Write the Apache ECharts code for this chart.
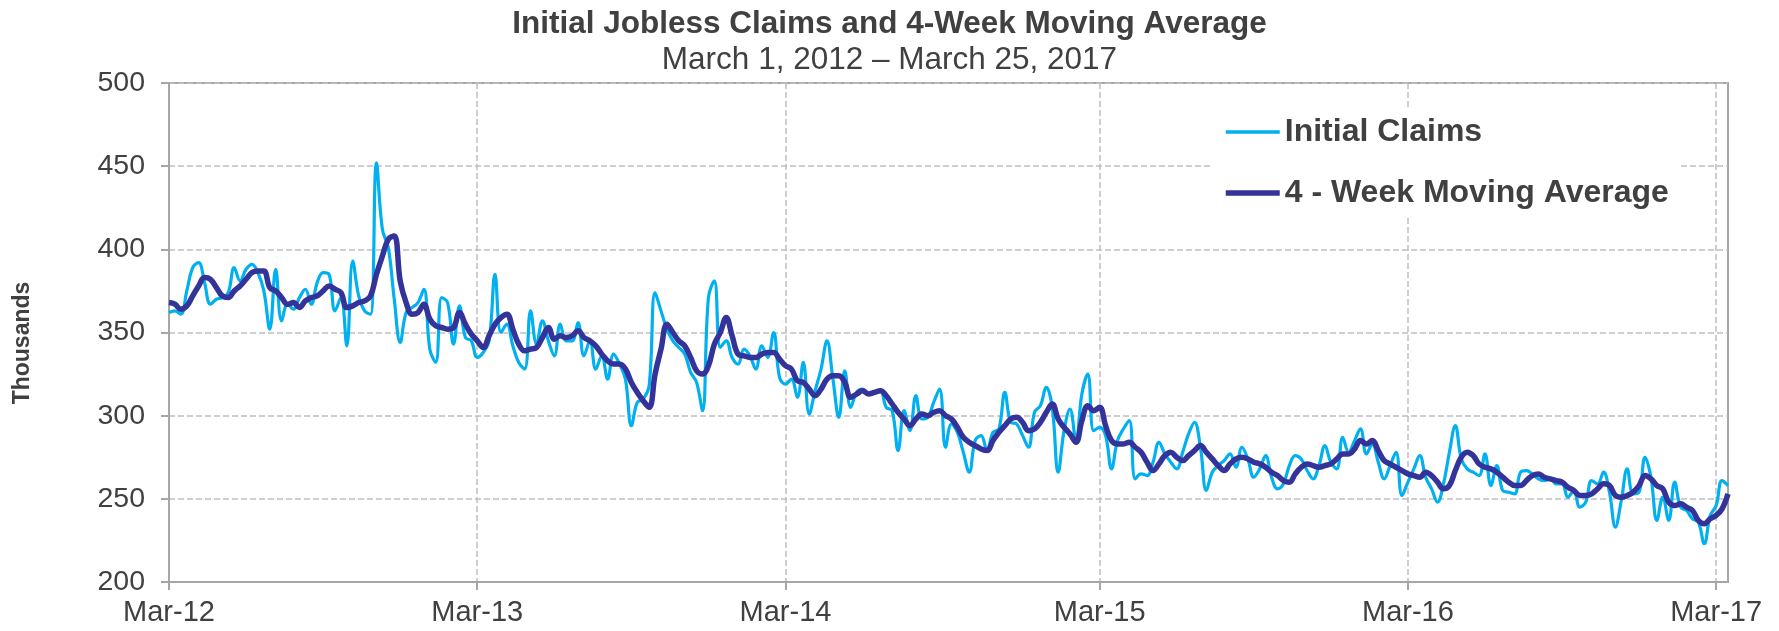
<!DOCTYPE html>
<html>
<head>
<meta charset="utf-8">
<title>Initial Jobless Claims</title>
<script src="https://cdn.jsdelivr.net/npm/echarts@6/dist/echarts.min.js"></script>
<style>
	html,body{margin:0;padding:0;background:#fff;}
	#chart{width:1779px;height:631px;}
</style>
</head>
<body>
<div id="chart"></div>
<script>
// weekly values, thousands, week ending Mar 3 2012 -> Mar 17 2017
var firstWeek = '2012-03-03';
var weekCount = 264;
var initialClaims = [
	362,363,361,375,389,392,380,367,370,371,
	374,389,381,388,391,386,375,352,388,357,
	367,364,371,376,367,380,386,385,363,371,
	342,393,372,363,361,452,412,401,370,344,
	362,365,368,376,340,332,371,368,343,366,
	347,345,335,338,345,385,350,355,342,332,
	328,363,343,357,345,336,355,345,345,356,
	336,345,328,336,322,337,331,322,294,308,
	310,318,374,363,352,345,341,337,326,320,
	303,371,381,341,345,335,331,340,336,328,
	342,335,350,323,319,322,311,332,301,315,
	328,345,322,299,327,305,314,316,313,314,
	315,305,303,279,303,291,312,298,299,308,
	316,281,295,290,278,266,285,288,279,290,
	292,314,296,295,288,281,302,306,317,305,
	266,291,304,285,313,325,291,293,288,268,
	285,292,297,262,265,264,272,284,277,272,
	268,278,289,296,281,255,266,270,273,277,
	269,281,274,263,268,276,263,256,259,270,
	276,274,267,262,270,282,272,268,287,278,
	285,292,277,283,272,262,270,278,252,260,
	268,276,263,256,248,259,278,294,274,268,
	266,264,277,258,270,255,254,253,266,267,
	265,262,261,262,259,259,251,255,245,248,
	261,259,266,254,233,249,268,253,254,275,
	263,237,251,237,260,245,243,238,236,223,
	240,246,261,258
];
var movingAvg = [
	368,367,364,366,372,378,383,382,377,372,
	371,375,378,382,386,387,387,377,375,371,
	367,368,365,369,371,372,375,378,376,374,
	365,366,368,369,372,385,396,406,408,381,
	368,361,362,367,358,354,353,352,353,362,
	355,349,345,341,348,355,359,361,352,343,
	339,340,341,347,353,346,348,347,348,351,
	347,345,342,337,333,331,331,328,320,314,
	309,305,325,340,355,350,345,342,335,327,
	325,330,343,350,359,348,337,336,335,335,
	337,338,338,334,330,328,321,320,316,312,
	316,322,324,324,320,311,313,315,313,314,
	315,312,307,302,298,294,298,301,300,302,
	303,300,298,293,287,284,282,280,279,285,
	290,294,298,299,296,291,292,296,302,307,
	298,293,289,284,297,306,303,305,294,285,
	283,283,284,281,278,272,267,271,276,278,
	275,273,276,279,282,278,274,270,267,271,
	274,275,274,272,271,269,266,264,261,260,
	265,269,271,270,269,270,271,274,277,277,
	280,285,283,285,279,273,271,269,267,265,
	264,263,266,264,260,256,258,267,275,278,
	276,271,269,268,266,263,260,258,258,261,
	264,265,263,262,261,260,257,255,252,252,
	253,256,259,258,252,251,252,254,258,264,
	262,258,256,248,246,247,245,243,237,235,
	238,240,244,253
];
var yTicks = [200,250,300,350,400,450,500];

var textColor = '#404040';
var fontName = 'Liberation Sans, Arial, sans-serif';

//week dates for the category axis
function getWeeks(){
	var list = [];
	var p = firstWeek.split('-');
	var t0 = Date.UTC(+p[0], +p[1]-1, +p[2]);
	for(var i = 0; i < weekCount; i++){
		var d = new Date(t0 + i*7*86400000);
		var m = d.getUTCMonth()+1, dd = d.getUTCDate();
		list.push(d.getUTCFullYear()+'-'+(m<10?'0'+m:m)+'-'+(dd<10?'0'+dd:dd));
	}
	return list;
}
//first week of march gets tick, label and grid line
function isMarch(index, value){
	return value.substr(5,2) == '03' && Number(value.substr(8,2)) <= 7;
}

var weeks = getWeeks();
var myChart = echarts.init(document.getElementById('chart'));
var option = {
	animation: false,
	backgroundColor: '#fff',
	textStyle: { fontFamily: fontName },
	title: [{
		text: 'Initial Jobless Claims and 4-Week Moving Average',
		left: 'center',
		top: 3,
		textStyle: { fontSize: 31.5, fontWeight: 'bold', color: textColor, fontFamily: fontName }
	}, {
		text: 'March 1, 2012 \u2013 March 25, 2017',
		left: 'center',
		top: 39,
		textStyle: { fontSize: 31.5, fontWeight: 'normal', color: textColor, fontFamily: fontName }
	}],
	graphic: [{
		type: 'text',
		x: 23,
		y: 343,
		rotation: Math.PI/2,
		style: {
			text: 'Thousands',
			fill: textColor,
			font: 'bold 23px ' + fontName,
			align: 'center',
			verticalAlign: 'middle'
		}
	}],
	legend: {
		orient: 'vertical',
		left: 1213,
		top: 107,
		padding: [8, 10, 8, 10],
		backgroundColor: '#fff',
		itemWidth: 54,
		itemHeight: 14,
		itemGap: 27,
		textStyle: { fontSize: 32, fontWeight: 'bold', color: textColor, lineHeight: 34, fontFamily: fontName },
		data: [
			{ name: 'Initial Claims', itemStyle: { opacity: 0 }, lineStyle: { width: 3.5 } },
			{ name: '4 - Week Moving Average', itemStyle: { opacity: 0 }, lineStyle: { width: 5.5 } }
		]
	},
	grid: {
		left: 169,
		right: 51,
		top: 83,
		bottom: 49,
		show: true,
		borderColor: '#a6a6a6',
		borderWidth: 2
	},
	xAxis: {
		type: 'category',
		boundaryGap: false,
		data: weeks,
		axisLine: { lineStyle: { color: '#a6a6a6', width: 2 } },
		axisTick: { show: true, interval: isMarch, length: 8, lineStyle: { color: '#a6a6a6', width: 2 } },
		axisLabel: {
			interval: isMarch,
			margin: 16,
			fontSize: 29,
			color: textColor,
			fontFamily: fontName,
			formatter: function(value){
				return 'Mar-' + value.substr(2,2);
			}
		},
		splitLine: { show: true, interval: isMarch, lineStyle: { color: '#bfbfbf', width: 1.5, type: [6, 3] } }
	},
	yAxis: {
		type: 'value',
		min: yTicks[0],
		max: yTicks[yTicks.length-1],
		interval: 50,
		axisLine: { show: true, lineStyle: { color: '#a6a6a6', width: 2 } },
		axisTick: { show: true, length: 8, lineStyle: { color: '#a6a6a6', width: 2 } },
		axisLabel: { margin: 24, fontSize: 28.5, color: textColor, fontFamily: fontName },
		splitLine: { show: true, lineStyle: { color: '#bfbfbf', width: 1.5, type: [6, 3] } }
	},
	series: [{
		name: 'Initial Claims',
		type: 'line',
		data: initialClaims,
		smooth: 0.4,
		symbol: 'none',
		color: '#00B0F0',
		lineStyle: { width: 3.2, color: '#00B0F0' }
	}, {
		name: '4 - Week Moving Average',
		type: 'line',
		data: movingAvg,
		smooth: 0.4,
		symbol: 'none',
		color: '#333399',
		lineStyle: { width: 5.5, color: '#333399' }
	}]
};
myChart.setOption(option);
</script>
</body>
</html>
